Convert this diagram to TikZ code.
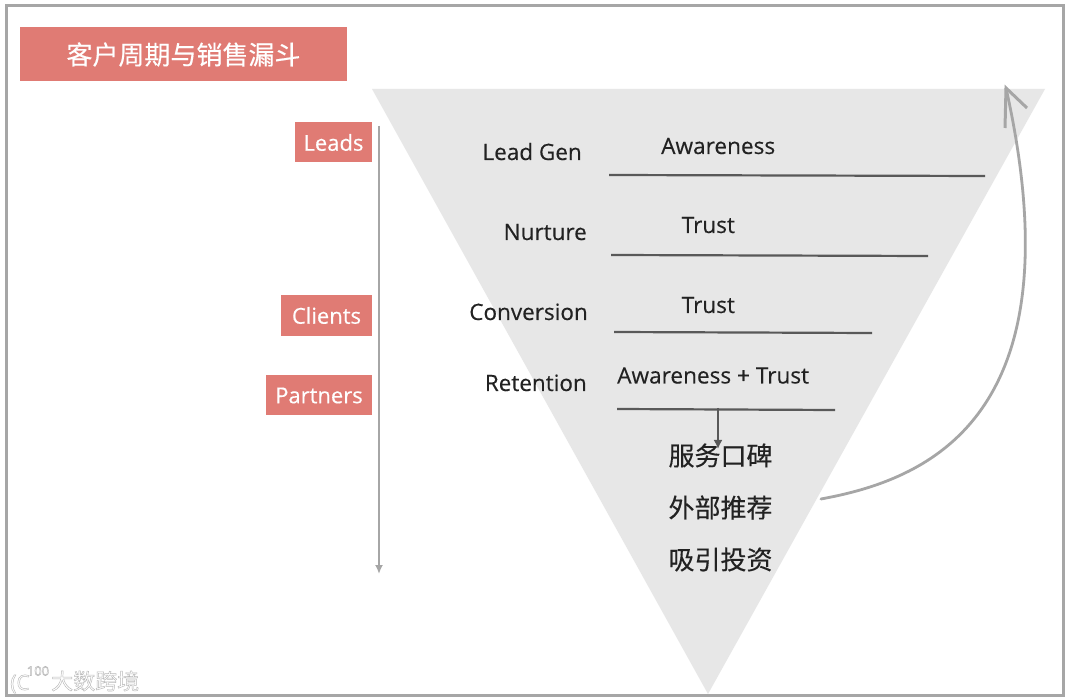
\documentclass[tikz,border=0pt]{standalone}
\usepackage{fontspec}
\usetikzlibrary{arrows.meta}
\setmainfont{Open Sans}
\newfontfamily\latinmed[FakeBold=0.35]{Open Sans}
\newfontfamily\cjk[FakeBold=0.3]{Noto Sans CJK SC}
\newfontfamily\cjkplain{Noto Sans CJK SC}
\definecolor{salmon}{HTML}{E07B74}
\definecolor{funnel}{HTML}{E7E7E7}
\definecolor{framegray}{HTML}{A6A6A6}
\definecolor{rule}{HTML}{595959}
\definecolor{inktext}{HTML}{222222}
\newcommand{\haloed}[1]{\special{pdf:code q 2 Tr 0.45 w 0.72 0.72 0.72 RG 1 1 1 rg}#1\special{pdf:code Q}}
\tikzset{
  tagbox/.style={fill=salmon,text=white,font=\latinmed\fontsize{22}{24}\selectfont,inner sep=0pt,anchor=center},
  stagetext/.style={text=inktext,font=\latinmed\fontsize{22.5}{24}\selectfont,inner sep=0pt,anchor=base east},
  valuetext/.style={text=inktext,font=\latinmed\fontsize{22.6}{24}\selectfont,inner sep=0pt,anchor=base west},
  cjktext/.style={text=inktext,font=\cjk\fontsize{26}{30}\selectfont,inner sep=0pt,anchor=center},
  divider/.style={draw=rule,line width=2.2pt},
  grayarrow/.style={draw=framegray,line width=2.2pt},
  wm/.style={font=\cjkplain\fontsize{22}{24}\selectfont,inner sep=0pt,text=white}
}
\begin{document}
\begin{tikzpicture}[x=1pt,y=-1pt]
\useasboundingbox (0,0) rectangle (1069,700);
\fill[white] (0,0) rectangle (1069,700);
\draw[framegray,line width=3pt] (6,6) rectangle (1063,695);
% funnel
\fill[funnel] (372,89) -- (1045,89) -- (708,694) -- cycle;
% title
\node[fill=salmon,text=white,minimum width=327pt,minimum height=54pt,inner sep=0pt,font=\cjk\fontsize{26}{30}\selectfont] (title) at (183.5,54.5) {客户周期与销售漏斗};
% tags
\node[tagbox,minimum width=77pt,minimum height=40pt] (leads) at (333.5,142.5) {Leads};
\node[tagbox,minimum width=91pt,minimum height=41pt] (clients) at (326.5,315.5) {Clients};
\node[tagbox,minimum width=106pt,minimum height=40pt] (partners) at (319,395.5) {Partners};
% down arrow
\coordinate (vtop) at (379,126);
\coordinate (vbot) at (379,574);
\draw[grayarrow,-{Latex[length=9pt,width=8pt]}] (vtop) -- (vbot);
% stage labels
\node[stagetext] (s1) at (582,160) {Lead Gen};
\node[stagetext] (s2) at (587,240) {Nurture};
\node[stagetext] (s3) at (588,320) {Conversion};
\node[stagetext] (s4) at (587,391) {Retention};
% values
\node[valuetext] (v1) at (661,154) {Awareness};
\node[valuetext] (v2) at (681.5,233) {Trust};
\node[valuetext] (v3) at (681.5,313) {Trust};
\node[valuetext] (v4) at (617,383.5) {Awareness + Trust};
% dividers
\coordinate (d1a) at (609,175); \coordinate (d1b) at (985,176);
\coordinate (d2a) at (611,255); \coordinate (d2b) at (928,256);
\coordinate (d3a) at (614,332); \coordinate (d3b) at (872,333);
\coordinate (d4a) at (617,409); \coordinate (d4b) at (835,410);
\draw[divider] (d1a) -- (d1b);
\draw[divider] (d2a) -- (d2b);
\draw[divider] (d3a) -- (d3b);
\draw[divider] (d4a) -- (d4b);
% CJK
\node[cjktext] (c1) at (720.5,455.5) {服务口碑};
\node[cjktext] (c2) at (720.5,507.5) {外部推荐};
\node[cjktext] (c3) at (720.5,559.5) {吸引投资};
% small arrow
\coordinate (sa) at (718,408);
\coordinate (sb) at (718,449);
\draw[rule,line width=2.2pt,-{Latex[length=9pt,width=9pt]}] (sa) -- (sb);
% return arrow
\coordinate (ra) at (821,499);
\coordinate (rb) at (1006,88);
\draw[framegray,line width=2.8pt,line cap=round,line join=round] (ra) .. controls (925,480) and (1080,420) .. (rb);
\coordinate (rl) at (1005,128);
\coordinate (rr) at (1027,108);
\draw[framegray,line width=3pt,line join=miter] (rl) -- (rb) -- (rr);
% watermark
\node[wm,anchor=west] (wm1) at (51,681) {\haloed{大数跨境}};
\node[wm,font=\fontsize{13}{14}\selectfont] (wm2) at (38,671) {\haloed{100}};
\node[wm,font=\fontsize{21}{24}\selectfont] (wm3) at (20,684) {\haloed{(C}};
\end{tikzpicture}
\end{document}
